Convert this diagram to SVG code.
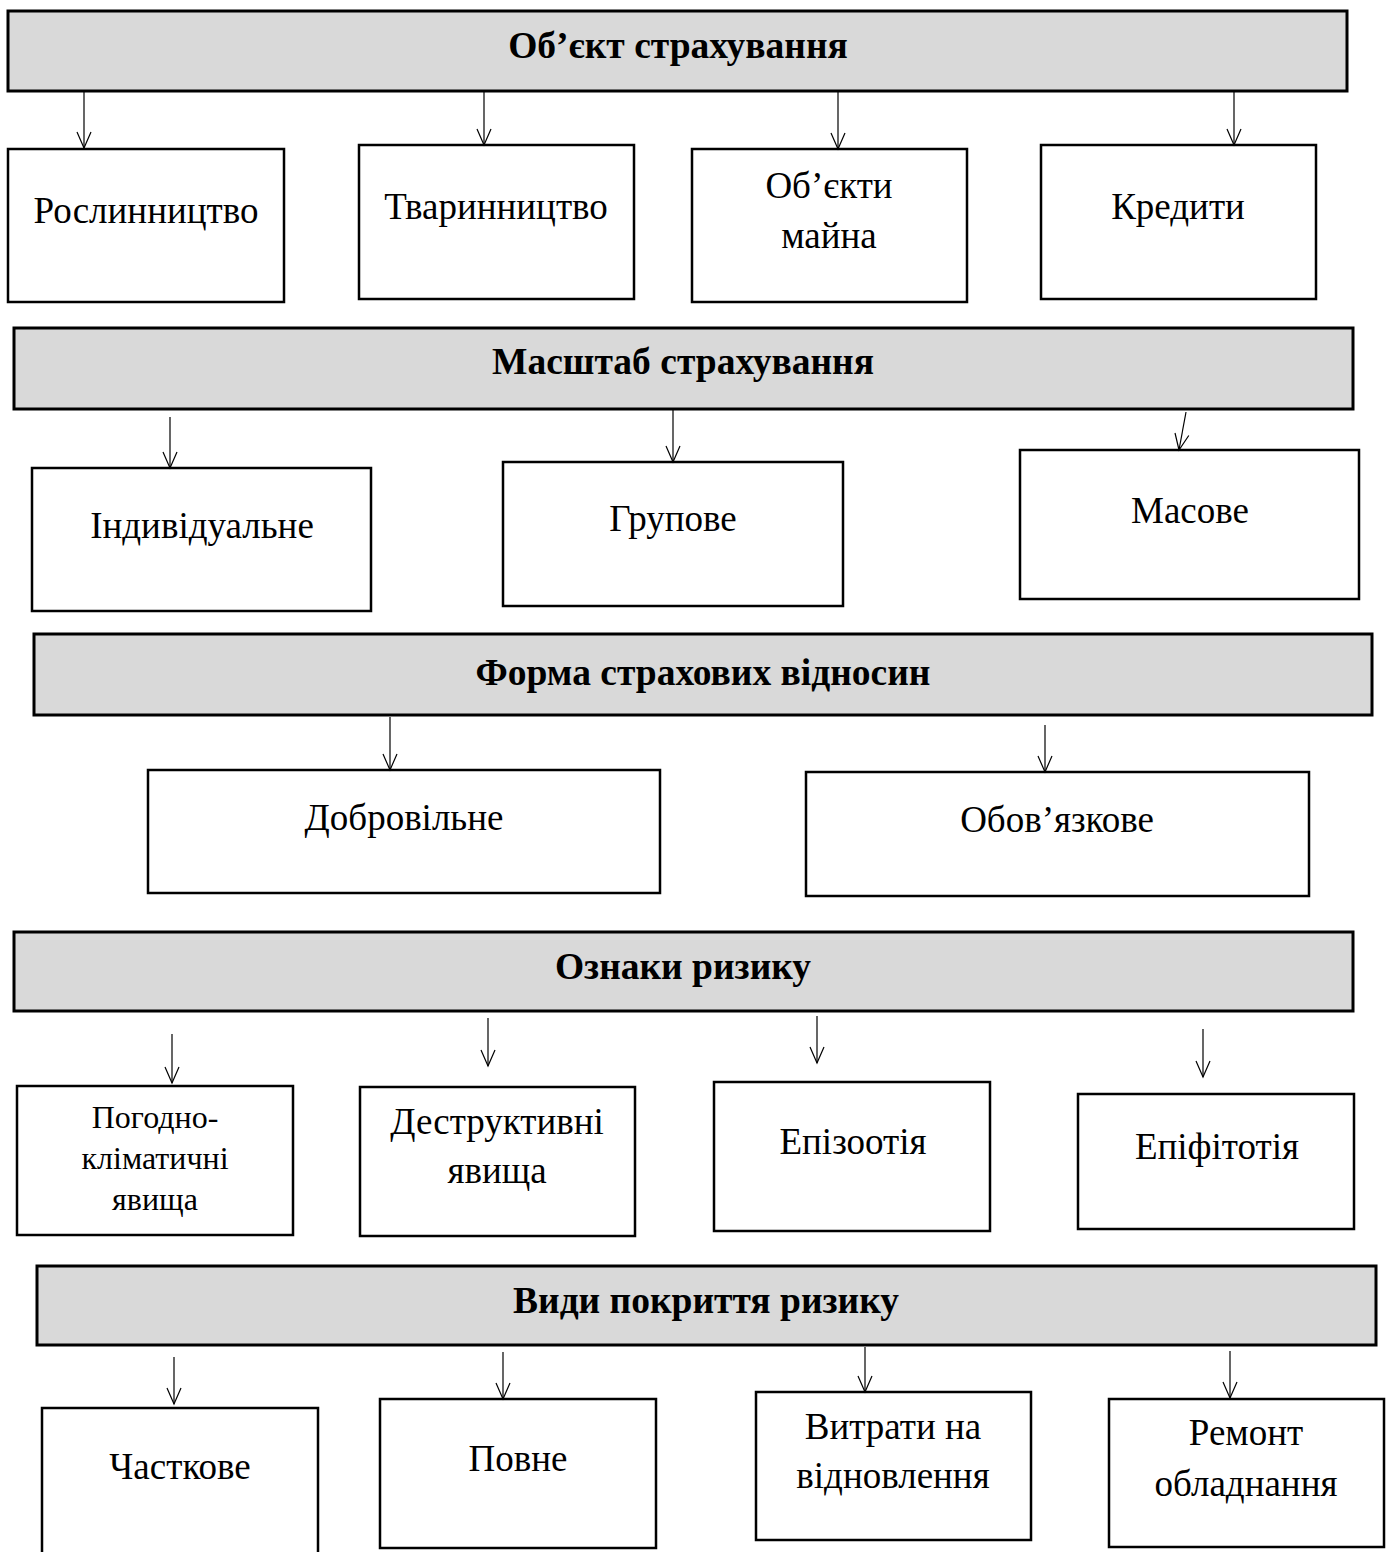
<svg xmlns="http://www.w3.org/2000/svg" width="1387" height="1552" viewBox="0 0 1387 1552">
<defs>
<style>
.hdr{fill:#d9d9d9;stroke:#000;stroke-width:3}
.box{fill:#fff;stroke:#000;stroke-width:2.5}
.ht{font-family:"Liberation Serif","Times New Roman",serif;font-weight:bold;font-size:37.5px;text-anchor:middle;fill:#000}
.bt{font-family:"Liberation Serif","Times New Roman",serif;font-size:37px;text-anchor:middle;fill:#000}
.st{font-family:"Liberation Serif","Times New Roman",serif;font-size:32px;text-anchor:middle;fill:#000}
.con line{stroke:#000;stroke-width:1.2;marker-end:url(#arr)}
</style>
<marker id="arr" markerUnits="userSpaceOnUse" viewBox="-18 -9 20 18" refX="0" refY="0" markerWidth="20" markerHeight="18" orient="auto">
<path d="M-16,-7 L0,0 L-16,7" fill="none" stroke="#000" stroke-width="1.2"/>
</marker>
</defs>
<rect width="1387" height="1552" fill="#fff"/>

<g id="h1"><rect class="hdr" x="8" y="11" width="1339" height="80"/><text class="ht" x="678" y="58">Об’єкт страхування</text></g>
<g id="n1"><rect class="box" x="8" y="149" width="276" height="153"/><text class="bt" x="146" y="223">Рослинництво</text></g>
<g id="n2"><rect class="box" x="359" y="145" width="275" height="154"/><text class="bt" x="496" y="219">Тваринництво</text></g>
<g id="n3"><rect class="box" x="692" y="149" width="275" height="153"/><text class="bt" x="829" y="198">Об’єкти</text><text class="bt" x="829" y="248">майна</text></g>
<g id="n4"><rect class="box" x="1041" y="145" width="275" height="154"/><text class="bt" x="1178" y="219">Кредити</text></g>

<g id="h2"><rect class="hdr" x="14" y="328" width="1339" height="81"/><text class="ht" x="683" y="374">Масштаб страхування</text></g>
<g id="n5"><rect class="box" x="32" y="468" width="339" height="143"/><text class="bt" x="202" y="538">Індивідуальне</text></g>
<g id="n6"><rect class="box" x="503" y="462" width="340" height="144"/><text class="bt" x="673" y="531">Групове</text></g>
<g id="n7"><rect class="box" x="1020" y="450" width="339" height="149"/><text class="bt" x="1190" y="523">Масове</text></g>

<g id="h3"><rect class="hdr" x="34" y="634" width="1338" height="81"/><text class="ht" x="703" y="685">Форма страхових відносин</text></g>
<g id="n8"><rect class="box" x="148" y="770" width="512" height="123"/><text class="bt" x="404" y="830">Добровільне</text></g>
<g id="n9"><rect class="box" x="806" y="772" width="503" height="124"/><text class="bt" x="1057" y="832">Обов’язкове</text></g>

<g id="h4"><rect class="hdr" x="14" y="932" width="1339" height="79"/><text class="ht" x="683" y="979">Ознаки ризику</text></g>
<g id="n10"><rect class="box" x="17" y="1086" width="276" height="149"/><text class="st" x="155" y="1128">Погодно-</text><text class="st" x="155" y="1169">кліматичні</text><text class="st" x="155" y="1210">явища</text></g>
<g id="n11"><rect class="box" x="360" y="1087" width="275" height="149"/><text class="bt" x="497" y="1134">Деструктивні</text><text class="bt" x="497" y="1183">явища</text></g>
<g id="n12"><rect class="box" x="714" y="1082" width="276" height="149"/><text class="bt" x="853" y="1154">Епізоотія</text></g>
<g id="n13"><rect class="box" x="1078" y="1094" width="276" height="135"/><text class="bt" x="1217" y="1159">Епіфітотія</text></g>

<g id="h5"><rect class="hdr" x="37" y="1266" width="1339" height="79"/><text class="ht" x="706" y="1313">Види покриття ризику</text></g>
<g id="n14"><rect class="box" x="42" y="1408" width="276" height="160"/><text class="bt" x="180" y="1479">Часткове</text></g>
<g id="n15"><rect class="box" x="380" y="1399" width="276" height="149"/><text class="bt" x="518" y="1471">Повне</text></g>
<g id="n16"><rect class="box" x="756" y="1392" width="275" height="148"/><text class="bt" x="893" y="1439">Витрати на</text><text class="bt" x="893" y="1488">відновлення</text></g>
<g id="n17"><rect class="box" x="1109" y="1399" width="275" height="148"/><text class="bt" x="1246" y="1445">Ремонт</text><text class="bt" x="1246" y="1496">обладнання</text></g>

<g id="connectors" class="con">
<line x1="84" y1="92" x2="84" y2="148"/>
<line x1="484" y1="92" x2="484" y2="145"/>
<line x1="838" y1="92" x2="838" y2="149"/>
<line x1="1234" y1="92" x2="1234" y2="145"/>
<line x1="170" y1="417" x2="170" y2="468"/>
<line x1="673" y1="410" x2="673" y2="462"/>
<line x1="1186" y1="412" x2="1179" y2="450"/>
<line x1="390" y1="717" x2="390" y2="770"/>
<line x1="1045" y1="725" x2="1045" y2="772"/>
<line x1="172" y1="1034" x2="172" y2="1083"/>
<line x1="488" y1="1018" x2="488" y2="1066"/>
<line x1="817" y1="1016" x2="817" y2="1063"/>
<line x1="1203" y1="1029" x2="1203" y2="1077"/>
<line x1="174" y1="1357" x2="174" y2="1404"/>
<line x1="503" y1="1352" x2="503" y2="1399"/>
<line x1="865" y1="1347" x2="865" y2="1392"/>
<line x1="1230" y1="1351" x2="1230" y2="1398"/>
</g>
</svg>
